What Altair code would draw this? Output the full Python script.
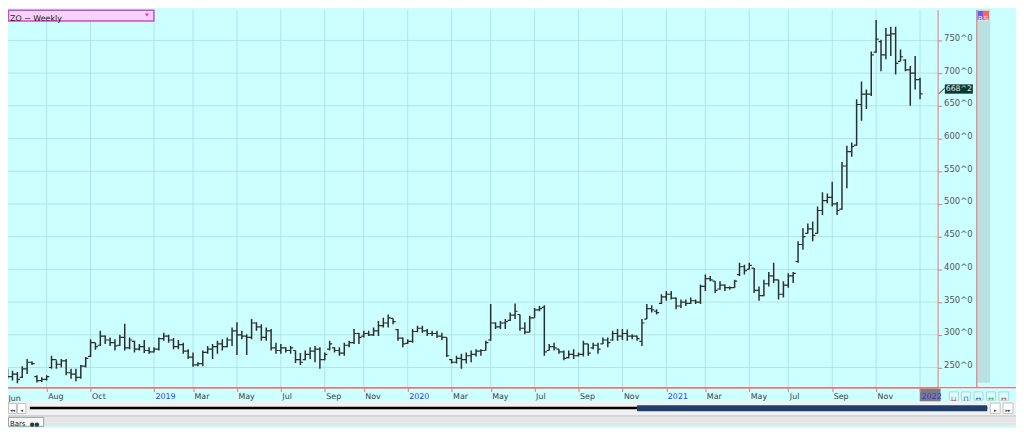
import altair as alt
import pandas as pd

# ---------------- data ----------------
start_date = "2018-06-01"   # first weekly bar (bars are one week apart)

highs = [252, 248, 245, 243, 252, 263, 259, 238, 235, 238,
         268, 261, 263, 263, 248, 248, 254, 266, 293, 288,
         306, 299, 296, 293, 300, 317, 296, 291, 286, 292,
         281, 281, 296, 303, 300, 295, 292, 288, 278, 273,
         258, 276, 283, 286, 291, 293, 296, 311, 319, 306,
         301, 324, 319, 316, 311, 309, 288, 286, 281, 283,
         276, 272, 276, 281, 283, 281, 273, 291, 281, 281,
         288, 291, 309, 303, 306, 306, 311, 321, 326, 331,
         325, 309, 296, 293, 309, 314, 314, 309, 306, 306,
         303, 296, 263, 268, 271, 273, 276, 278, 278, 291,
         347, 319, 321, 324, 334, 348, 331, 319, 329, 341,
         344, 345, 286, 288, 278, 276, 276, 278, 273, 291,
         286, 288, 288, 296, 296, 306, 309, 309, 308, 301,
         299, 324, 347, 345, 339, 362, 367, 367, 357, 354,
         354, 357, 354, 377, 392, 390, 382, 382, 377, 374,
         384, 410, 407, 410, 402, 374, 384, 396, 410, 384,
         382, 394, 396, 443, 463, 470, 473, 496, 518, 516,
         534, 503, 564, 589, 594, 660, 687, 675, 733, 781,
         751, 769, 771, 771, 736, 721, 711, 726, 693]

lows = [238, 233, 230, 226, 234, 240, 254, 227, 228, 230,
        248, 248, 250, 238, 233, 229, 233, 250, 266, 277,
        283, 286, 283, 276, 283, 276, 278, 273, 276, 272,
        271, 273, 276, 291, 288, 278, 278, 271, 263, 251,
        252, 252, 271, 263, 271, 276, 281, 283, 269, 293,
        269, 293, 306, 291, 291, 276, 271, 271, 273, 271,
        257, 254, 261, 263, 258, 248, 261, 276, 273, 268,
        268, 281, 286, 286, 296, 298, 298, 298, 311, 311,
        316, 291, 281, 286, 288, 304, 303, 298, 298, 295,
        292, 266, 256, 256, 248, 256, 258, 267, 268, 276,
        291, 309, 309, 309, 321, 324, 306, 301, 304, 326,
        336, 268, 276, 276, 271, 261, 264, 263, 267, 267,
        268, 278, 271, 286, 281, 291, 291, 292, 291, 293,
        291, 283, 324, 334, 331, 347, 352, 354, 339, 341,
        344, 347, 347, 347, 367, 382, 364, 369, 367, 369,
        372, 390, 392, 400, 364, 352, 359, 374, 379, 354,
        357, 372, 379, 410, 430, 455, 443, 455, 483, 501,
        496, 483, 491, 524, 572, 589, 627, 645, 665, 731,
        703, 721, 726, 698, 718, 703, 650, 675, 660]

opens = [250, 241, 236, 240, 235, 248, 258, 236, 230, 232,
         250, 262, 255, 260, 242, 240, 235, 252, 267, 288,
         284, 298, 292, 288, 284, 296, 280, 290, 278, 282,
         276, 274, 278, 294, 298, 292, 282, 285, 275, 266,
         254, 256, 273, 278, 282, 286, 282, 292, 306, 300,
         298, 296, 318, 312, 296, 306, 280, 276, 280, 276,
         276, 262, 262, 270, 275, 278, 262, 278, 280, 276,
         272, 284, 288, 302, 298, 302, 300, 306, 314, 318,
         325, 308, 295, 287, 290, 305, 310, 306, 302, 302,
         298, 296, 262, 258, 264, 262, 268, 270, 275, 276,
         292, 318, 312, 318, 322, 330, 331, 310, 304, 326,
         338, 342, 276, 282, 278, 274, 265, 270, 268, 270,
         286, 280, 284, 286, 292, 292, 302, 298, 302, 298,
         298, 290, 324, 340, 336, 348, 358, 362, 356, 344,
         350, 348, 352, 350, 374, 386, 382, 370, 376, 372,
         372, 392, 404, 400, 402, 368, 360, 378, 390, 384,
         362, 376, 390, 412, 438, 455, 462, 455, 490, 505,
         510, 500, 492, 558, 580, 590, 652, 668, 668, 732,
         748, 728, 758, 760, 718, 720, 705, 700, 690]

closes = [241, 236, 240, 232, 248, 258, 256, 230, 232, 236,
          262, 255, 260, 242, 240, 235, 252, 264, 288, 282,
          298, 292, 288, 283, 296, 280, 292, 278, 282, 276,
          274, 278, 294, 298, 292, 282, 285, 275, 266, 254,
          256, 273, 278, 282, 286, 282, 292, 306, 300, 298,
          296, 318, 312, 296, 306, 280, 276, 280, 276, 280,
          262, 258, 270, 275, 278, 262, 270, 286, 276, 272,
          284, 288, 302, 296, 302, 300, 306, 314, 318, 326,
          320, 295, 286, 290, 305, 310, 306, 302, 302, 298,
          296, 268, 258, 264, 262, 268, 270, 275, 276, 288,
          318, 312, 318, 320, 330, 336, 310, 304, 326, 338,
          340, 274, 282, 280, 274, 264, 270, 268, 270, 286,
          272, 284, 278, 292, 288, 302, 298, 302, 298, 298,
          294, 318, 340, 338, 334, 358, 362, 356, 344, 350,
          348, 352, 350, 374, 386, 384, 368, 376, 372, 372,
          382, 404, 398, 406, 368, 360, 378, 390, 384, 362,
          376, 390, 394, 438, 450, 462, 452, 490, 505, 510,
          500, 490, 558, 580, 588, 652, 668, 668, 728, 752,
          728, 758, 760, 715, 725, 705, 700, 690, 668.25]

y_ticks = [250, 300, 350, 400, 450, 500, 550, 600, 650, 700, 750]
y_tick_labels = ["250^0", "300^0", "350^0", "400^0", "450^0", "500^0",
                 "550^0", "600^0", "650^0", "700^0", "750^0"]

first_month_label = "Jun"
x_tick_dates = ["2018-08-03", "2018-10-05", "2019-01-04", "2019-03-01", "2019-05-03",
                "2019-07-05", "2019-09-06", "2019-11-01", "2020-01-03", "2020-03-06",
                "2020-05-01", "2020-07-03", "2020-09-04", "2020-11-06", "2021-01-08",
                "2021-03-05", "2021-05-07", "2021-07-02", "2021-09-03", "2021-11-05",
                "2022-01-07"]
x_tick_labels = ["Aug", "Oct", "2019", "Mar", "May", "Jul", "Sep", "Nov", "2020", "Mar",
                 "May", "Jul", "Sep", "Nov", "2021", "Mar", "May", "Jul", "Sep", "Nov",
                 "2022"]

last_price_label = "668^2"
title_text = "ZO ~ Weekly"

# ---------------- layout / style ----------------
W, H = 937, 381
RED = "#ef7575"
GRID = "#b2e3e3"
BG = "#ccffff"
BARC = "#2e2e2e"
FONT = "DejaVu Sans"
DAY = 86400000


def ms(s):
    return int(pd.Timestamp(s, tz="UTC").value // 10**6)


n = len(highs)
t0 = ms(start_date)
dates = [t0 + 7 * DAY * k for k in range(n)]
days_per_px = 7 / 4.918
dom0 = t0 + 5.3 * days_per_px * DAY
dom1 = dom0 + W * days_per_px * DAY

x_ms = [ms(d) for d in x_tick_dates]

xs = alt.Scale(type="utc", domain=[dom0, dom1], nice=False)
ys = alt.Scale(domain=[219.2, 797.0], zero=False, nice=False)

x_expr = ("[" + ",".join("'%s'" % s for s in x_tick_labels) + "][indexof(["
          + ",".join(str(v) for v in x_ms) + "], time(datum.value))]")
y_expr = ("[" + ",".join("'%s'" % s for s in y_tick_labels) + "][indexof(["
          + ",".join(str(v) for v in y_ticks) + "], datum.value)]")

xaxis = alt.Axis(orient="bottom", values=x_ms, grid=False, title=None,
                 domainColor=RED, tickColor=RED, tickSize=4, labelAlign="left",
                 labelBaseline="alphabetic", labelPadding=7, labelFont=FONT,
                 labelFontSize=8, labelOffset=1, labelOverlap=False, labelFlush=False,
                 labelColor={"condition": {"test": "utcmonth(datum.value) == 0",
                                           "value": "#3434ff"}, "value": "#404040"},
                 labelExpr=x_expr, zindex=1)
yaxis = alt.Axis(orient="right", values=y_ticks, grid=False, title=None,
                 domainColor=RED, tickColor=RED, tickSize=4, labelAlign="left",
                 labelBaseline="alphabetic", labelPadding=2, labelFont=FONT,
                 labelFontSize=8.5, labelColor="#555555", labelExpr=y_expr,
                 labelOverlap=False, zindex=1)

X = alt.X("date:T", scale=xs, axis=xaxis)


def Y(f):
    return alt.Y(f + ":Q", scale=ys, axis=yaxis)


one = pd.DataFrame({"k": [0]})


def rect(x, x2, y, y2, **kw):
    return alt.Chart(one).mark_rect(**kw).encode(
        x=alt.value(x), x2=alt.value(x2), y=alt.value(y), y2=alt.value(y2))


def text(x, y, s, **kw):
    kw.setdefault("font", FONT)
    return alt.Chart(one).mark_text(text=s, **kw).encode(x=alt.value(x), y=alt.value(y))


def hline(x, x2, y, **kw):
    return alt.Chart(one).mark_rule(**kw).encode(
        x=alt.value(x), x2=alt.value(x2), y=alt.value(y))


def vline(x, y, y2, **kw):
    return alt.Chart(one).mark_rule(**kw).encode(
        x=alt.value(x), y=alt.value(y), y2=alt.value(y2))


df = pd.DataFrame({"date": dates, "high": highs, "low": lows,
                   "open": opens, "close": closes})
base = alt.Chart(df)

grid_h = alt.Chart(pd.DataFrame({"price": y_ticks})).mark_rule(
    color=GRID, strokeWidth=1).encode(y=Y("price"), x=alt.value(0), x2=alt.value(W))
grid_v = alt.Chart(pd.DataFrame({"date": x_ms})).mark_rule(
    color=GRID, strokeWidth=1).encode(x=X, y=alt.value(0), y2=alt.value(H))

hl = base.mark_rule(color=BARC, strokeWidth=1.5, clip=True).encode(
    x=X, y=Y("low"), y2="high")
op = base.mark_rule(color=BARC, strokeWidth=1.2, xOffset=-2.6, x2Offset=0, clip=True).encode(
    x=X, x2="date", y=Y("open"))
cl = base.mark_rule(color=BARC, strokeWidth=1.2, xOffset=0, x2Offset=2.6, clip=True).encode(
    x=X, x2="date", y=Y("close"))

tag_df = pd.DataFrame({"close": [closes[-1]], "label": [last_price_label]})
tag_rect = alt.Chart(tag_df).mark_rect(color="#0b3a32", yOffset=-9.6, y2Offset=-0.2).encode(
    x=alt.value(944.3), x2=alt.value(972.5), y=Y("close"), y2="close")
tag_text = alt.Chart(tag_df).mark_text(color="#e8e8e8", fontSize=7.8, font=FONT, align="center",
                                       baseline="middle", yOffset=-4.9).encode(
    x=alt.value(958.4), y=Y("close"), text="label:N")
tag_line = alt.Chart(tag_df).mark_rule(color="#222222", strokeWidth=1, y2Offset=-6).encode(
    x=alt.value(938), x2=alt.value(944.3), y=Y("close"), y2="close")

deco_back = [
    rect(977, 990, 0, 376, color="#b8e2e2"),
    vline(976.5, 0, 381, color=RED, strokeWidth=1.2),
    rect(919, 940, 382, 395, color="#7b7b7b"),
    rect(0, 1016, 395, 409, color="#f1f1f1"),
    rect(0, 1016, 409, 420, color="#e6e6e6"),
]

deco_front = [
    hline(0, 1016, 381, color=RED, strokeWidth=1.2),
    # title box
    rect(0.5, 147, 0.5, 11.5, fill="#f7d3f7", stroke="#d247d2", strokeWidth=1.5),
    text(2, 9, title_text, fontSize=8, color="#202020", align="left"),
    alt.Chart(one).mark_point(shape="triangle-down", filled=True, size=16,
                              color="#d040d0", opacity=1).encode(
        x=alt.value(140), y=alt.value(5.5)),
    # B / S boxes
    rect(977.3, 982.7, 1.3, 10.3, color="#5c5cff"),
    text(980, 9, "B", fontSize=7, color="#f0f0ff", align="center"),
    rect(982.7, 988.7, 1.3, 10.3, color="#ff6060"),
    text(985.7, 9, "S", fontSize=7, color="#fff0f0", align="center"),
    # first month label
    text(0.5, 392, first_month_label, fontSize=8, color="#404040", align="left"),
    # small tool buttons
    rect(948.7, 958, 385.3, 393.7, fill="#d8ffff", stroke="#a8d8d8"),
    text(953.3, 392, "⊔", fontSize=7, color="#e03030", align="center"),
    rect(961, 970, 385.3, 393.7, fill="#d8ffff", stroke="#a8d8d8"),
    text(965.5, 392, "⊓", fontSize=7, color="#3040d0", align="center"),
    rect(973.7, 982.7, 385.3, 393.7, fill="#d8ffff", stroke="#a8d8d8"),
    text(978.2, 392, "↔", fontSize=7, color="#3040d0", align="center"),
    rect(986.3, 995.3, 385.3, 393.7, fill="#d8ffff", stroke="#a8d8d8"),
    text(990.8, 392, "↔", fontSize=7, color="#20a040", align="center"),
    rect(998.7, 1008.7, 385.3, 393.7, fill="#d8ffff", stroke="#a8d8d8"),
    text(1003.7, 392, "↔", fontSize=7, color="#e03030", align="center"),
    # scroll row
    rect(0.5, 8.5, 397, 407, fill="#ffffff", stroke="#c0c0c0"),
    text(4.5, 404, "◂◂", fontSize=5, color="#333333", align="center"),
    rect(9.5, 18, 397, 407, fill="#ffffff", stroke="#c0c0c0"),
    text(13.8, 404, "◂", fontSize=5, color="#333333", align="center"),
    hline(22, 987, 401.5, color="#000000", strokeWidth=2.5),
    rect(634, 987, 398.7, 404.7, color="#1f3e6c", cornerRadius=1),
    rect(990, 1000, 396.5, 407, fill="#ffffff", stroke="#c0c0c0"),
    text(995, 404, "▸", fontSize=5, color="#333333", align="center"),
    rect(1003, 1013, 396.5, 407, fill="#ffffff", stroke="#c0c0c0"),
    text(1008, 404, "▸▸", fontSize=5, color="#333333", align="center"),
    # status row
    hline(0, 1016, 409.5, color="#c4c4c4"),
    rect(0.5, 36, 411, 420, fill="#f7f7f7", stroke="#a0a0a0"),
    text(2, 418, "Bars", fontSize=7, color="#222222", align="left"),
    text(22, 418, "●●", fontSize=5.5, color="#333333", align="left"),
]

chart = alt.layer(
    *deco_back, grid_h, grid_v, hl, op, cl, tag_line, tag_rect, tag_text, *deco_front
).properties(
    width=W, height=H,
    autosize=alt.AutoSizeParams(type="none"),
    padding={"left": 0, "top": 0, "right": 79, "bottom": 39},
    background=BG,
).configure_view(stroke=None)

chart.save("out.html", embed_options={"renderer": "svg", "actions": False})
